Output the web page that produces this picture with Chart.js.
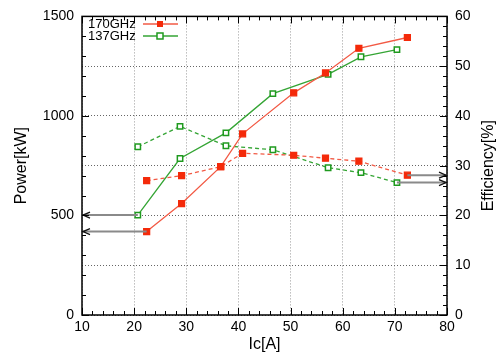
<!DOCTYPE html>
<html>
<head>
<meta charset="utf-8">
<script src="https://cdn.jsdelivr.net/npm/chart.js@4"></script>
<style>
  html, body { margin: 0; padding: 0; background: #fff; }
  #wrap { width: 504px; height: 358px; }
</style>
</head>
<body>
<div id="wrap"><canvas id="chart" width="504" height="358"></canvas></div>
<script>
// Data
const ic170 = [22.4, 29.1, 36.6, 40.8, 50.6, 56.7, 63.1, 72.4];
const power170 = [419, 560, 745, 910, 1116, 1216, 1340, 1394];
const eff170 = [27.0, 28.0, 29.8, 32.5, 32.1, 31.5, 30.9, 28.1];

const ic137 = [20.7, 28.8, 37.6, 46.6, 57.2, 63.5, 70.4];
const power137 = [502, 786, 915, 1112, 1209, 1297, 1333];
const eff137 = [33.8, 37.9, 34.0, 33.2, 29.6, 28.6, 26.6];

const xTicks = [10, 20, 30, 40, 50, 60, 70, 80];
const powerTicks = [0, 500, 1000, 1500];
const effTicks = [0, 10, 20, 30, 40, 50, 60];

const red = '#f42a0a';
const redLine = '#f25a45';
const green = '#1f9a1f';
const greenLine = '#35a535';

const pts = (xs, ys) => xs.map((x, i) => ({ x: x, y: ys[i] }));

// Frame, minor ticks, arrows, titles, legend
const decorations = {
    id: 'decorations',
    afterDatasetsDraw(chart) {
        const ctx = chart.ctx;
        const a = chart.chartArea;
        const x = chart.scales.x, yl = chart.scales.y, yr = chart.scales.y1;

        ctx.save();
        // arrows to the axes
        const arrow = (x0, y0, x1, y1) => {
            ctx.strokeStyle = '#8a8a8a';
            ctx.lineWidth = 2;
            ctx.beginPath();
            ctx.moveTo(x0, y0);
            ctx.lineTo(x1, y1);
            ctx.stroke();
            const d = x1 > x0 ? -1 : 1;
            ctx.strokeStyle = '#111';
            ctx.lineWidth = 1.3;
            ctx.beginPath();
            ctx.moveTo(x1 + d * 7, y1 - 3);
            ctx.lineTo(x1, y1);
            ctx.lineTo(x1 + d * 7, y1 + 3);
            ctx.stroke();
        };
        arrow(x.getPixelForValue(ic137[0]), yl.getPixelForValue(power137[0]), a.left + 1, yl.getPixelForValue(power137[0]));
        arrow(x.getPixelForValue(ic170[0]), yl.getPixelForValue(power170[0]), a.left + 1, yl.getPixelForValue(power170[0]));
        const l170 = ic170.length - 1, l137 = ic137.length - 1;
        arrow(x.getPixelForValue(ic170[l170]), yr.getPixelForValue(eff170[l170]), a.right - 1, yr.getPixelForValue(eff170[l170]));
        arrow(x.getPixelForValue(ic137[l137]), yr.getPixelForValue(eff137[l137]), a.right - 1, yr.getPixelForValue(eff137[l137]));

        // frame
        ctx.strokeStyle = '#000';
        ctx.lineWidth = 1.5;
        ctx.strokeRect(a.left, a.top, a.right - a.left, a.bottom - a.top);

        // inner tick marks
        ctx.lineWidth = 1;
        ctx.beginPath();
        for (let v = 10; v <= 80; v += 2) {
            const px = Math.round(x.getPixelForValue(v)) + 0.5;
            const len = v % 10 === 0 ? 7 : 4;
            ctx.moveTo(px, a.bottom); ctx.lineTo(px, a.bottom - len);
            ctx.moveTo(px, a.top); ctx.lineTo(px, a.top + len);
        }
        for (let v = 0; v <= 1500; v += 100) {
            const py = Math.round(yl.getPixelForValue(v)) + 0.5;
            const len = v % 500 === 0 ? 7 : 4;
            ctx.moveTo(a.left, py); ctx.lineTo(a.left + len, py);
        }
        for (let v = 0; v <= 60; v += 2) {
            const py = Math.round(yr.getPixelForValue(v)) + 0.5;
            const len = v % 10 === 0 ? 7 : 4;
            ctx.moveTo(a.right, py); ctx.lineTo(a.right - len, py);
        }
        ctx.stroke();

        // axis titles
        ctx.fillStyle = '#000';
        ctx.font = '16px "Liberation Sans", Arial, sans-serif';
        ctx.textAlign = 'center';
        ctx.textBaseline = 'middle';
        ctx.fillText('Ic[A]', (a.left + a.right) / 2, 345);
        ctx.save();
        ctx.translate(22, (a.top + a.bottom) / 2);
        ctx.rotate(-Math.PI / 2);
        ctx.fillText('Power[kW]', 0, 0);
        ctx.restore();
        ctx.save();
        ctx.translate(489, (a.top + a.bottom) / 2);
        ctx.rotate(-Math.PI / 2);
        ctx.fillText('Efficiency[%]', 0, 0);
        ctx.restore();

        // legend
        ctx.font = '13px "Liberation Sans", Arial, sans-serif';
        ctx.textAlign = 'left';
        const entries = [['170GHz', redLine, red, true, 24], ['137GHz', greenLine, green, false, 36]];
        entries.forEach(e => {
            ctx.fillStyle = '#000';
            ctx.fillText(e[0], 88, e[4]);
            ctx.strokeStyle = e[1];
            ctx.lineWidth = 1.3;
            ctx.beginPath();
            ctx.moveTo(143, e[4]); ctx.lineTo(178, e[4]);
            ctx.stroke();
            if (e[3]) {
                ctx.fillStyle = e[2];
                ctx.fillRect(157, e[4] - 3, 6, 6);
            } else {
                ctx.fillStyle = '#fff';
                ctx.fillRect(157, e[4] - 3, 6, 6);
                ctx.strokeStyle = e[2];
                ctx.lineWidth = 1.5;
                ctx.strokeRect(157, e[4] - 3, 6, 6);
            }
        });
        ctx.restore();
    }
};

const tickFont = { family: '"Liberation Sans", Arial, sans-serif', size: 14 };
const plain = v => String(v);

new Chart(document.getElementById('chart'), {
    type: 'scatter',
    data: {
        datasets: [
            {
                data: pts(ic170, power170), yAxisID: 'y', showLine: true,
                borderColor: redLine, borderWidth: 1.3,
                pointStyle: 'rect', pointRadius: 4.2, pointBackgroundColor: red, pointBorderColor: red
            },
            {
                data: pts(ic137, power137), yAxisID: 'y', showLine: true,
                borderColor: greenLine, borderWidth: 1.3,
                pointStyle: 'rect', pointRadius: 3.8, pointBorderWidth: 1.5,
                pointBackgroundColor: '#fff', pointBorderColor: green
            },
            {
                data: pts(ic170, eff170), yAxisID: 'y1', showLine: true,
                borderColor: redLine, borderWidth: 1.3, borderDash: [4, 3],
                pointStyle: 'rect', pointRadius: 4.2, pointBackgroundColor: red, pointBorderColor: red
            },
            {
                data: pts(ic137, eff137), yAxisID: 'y1', showLine: true,
                borderColor: greenLine, borderWidth: 1.3, borderDash: [4, 3],
                pointStyle: 'rect', pointRadius: 3.8, pointBorderWidth: 1.5,
                pointBackgroundColor: '#fff', pointBorderColor: green
            }
        ]
    },
    options: {
        responsive: false,
        animation: false,
        layout: { padding: { top: 13, left: 0, right: 0, bottom: 0 } },
        plugins: { legend: { display: false }, tooltip: { enabled: false } },
        scales: {
            x: {
                type: 'linear', min: 10, max: 80,
                afterBuildTicks: s => { s.ticks = xTicks.map(v => ({ value: v })); },
                afterFit: s => { s.height = 43; },
                ticks: { font: tickFont, color: '#000', padding: 4, maxRotation: 0, callback: plain },
                grid: { color: '#999', drawTicks: false },
                border: { display: false, dash: [1, 2] }
            },
            y: {
                position: 'left', min: 0, max: 1500,
                afterBuildTicks: s => { s.ticks = powerTicks.map(v => ({ value: v })); },
                afterFit: s => { s.width = 82; },
                ticks: { font: tickFont, color: '#000', padding: 8, callback: plain },
                grid: { display: false, drawTicks: false },
                border: { display: false }
            },
            y1: {
                position: 'right', min: 0, max: 60,
                afterBuildTicks: s => { s.ticks = effTicks.map(v => ({ value: v })); },
                afterFit: s => { s.width = 57; },
                ticks: { font: tickFont, color: '#000', padding: 8, callback: plain },
                grid: { color: '#666', drawTicks: false },
                border: { display: false, dash: [1, 2] }
            }
        }
    },
    plugins: [decorations]
});
</script>
</body>
</html>
